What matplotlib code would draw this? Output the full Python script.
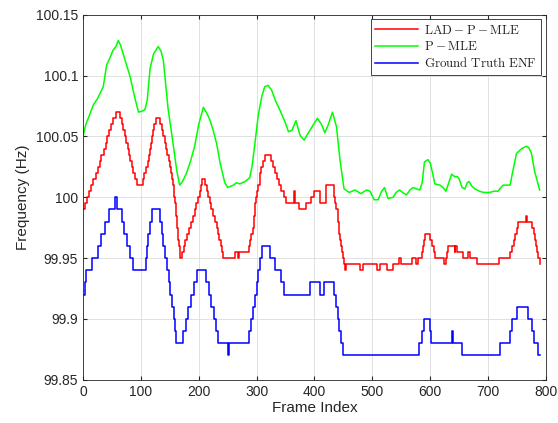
import numpy as np
import matplotlib
matplotlib.use("Agg")
import matplotlib.pyplot as plt

plt.rcParams['font.family'] = ['Liberation Sans', 'DejaVu Sans']
plt.rcParams['mathtext.fontset'] = 'cm'

# ground truth ENF, step breakpoints (frame, Hz)
gt_frames = [0, 4, 6, 16, 26, 32, 38, 45, 56, 58, 67, 71, 76, 81, 86, 109, 111, 113, 116, 119,
             133, 136, 139, 142, 145, 148, 151, 154, 157, 159, 161, 173, 178, 182, 187, 192, 197,
             212, 218, 222, 226, 230, 234, 250, 252, 286, 290, 293, 297, 300, 303, 306, 309, 323,
             331, 342, 348, 392, 409, 417, 433, 437, 440, 443, 446, 450, 581, 585, 590, 599, 602,
             637, 640, 654, 720, 737, 742, 750, 769, 775, 780, 786, 790]
gt_vals = [99.92, 99.93, 99.94, 99.95, 99.96, 99.97, 99.98, 99.99, 100.00, 99.99, 99.98, 99.97,
           99.96, 99.95, 99.94, 99.95, 99.96, 99.97, 99.98, 99.99,
           99.98, 99.97, 99.96, 99.95, 99.94, 99.93, 99.92, 99.91, 99.90, 99.89, 99.88, 99.89,
           99.90, 99.91, 99.92, 99.93, 99.94,
           99.93, 99.92, 99.91, 99.90, 99.89, 99.88, 99.87, 99.88, 99.89, 99.90, 99.91, 99.92,
           99.93, 99.94, 99.95, 99.96, 99.95,
           99.94, 99.93, 99.92, 99.93, 99.92, 99.93, 99.92, 99.91, 99.90, 99.89, 99.88, 99.87,
           99.88, 99.89, 99.90, 99.89, 99.88,
           99.89, 99.88, 99.87, 99.88, 99.89, 99.90, 99.91, 99.90, 99.89, 99.88, 99.87, 99.87]

# LAD-P-MLE estimate, step breakpoints
lad_frames = [0, 4, 7, 11, 14, 18, 22, 26, 29, 32, 36, 39, 42, 45, 48, 52, 57,
              64, 67, 69, 72, 74, 77, 79, 82, 85, 87, 90, 93,
              103, 106, 109, 112, 114, 116, 118, 120, 121, 123, 126,
              133, 137, 139, 141, 144, 146, 148, 150, 152, 154, 156, 157, 158, 159, 160, 161, 162,
              163, 164, 165, 166, 167, 168,
              171, 174, 177, 180, 183, 187, 190, 193, 196, 199, 202, 204, 206,
              211, 214, 216, 219, 222, 225, 228, 231, 233, 235, 238, 240, 242,
              263, 267, 269, 286, 289, 291, 293, 295, 296, 297, 298, 299, 301, 303, 305, 306, 308,
              311, 314,
              324, 328, 331, 335, 339, 343, 347, 350, 364, 366, 374, 385, 394, 400, 410, 420, 433,
              436, 438, 440, 441, 442, 443, 444, 445, 447, 449, 451, 452, 455,
              478, 484, 508, 514, 526, 536, 546, 549, 568, 576, 579, 586, 587, 589, 591, 600, 603,
              606, 608, 623, 627, 629, 631, 642, 643, 647, 657, 666, 668, 680, 719, 738, 741, 744,
              747, 750, 752, 766, 768, 776, 779, 781, 783, 785, 787, 789]
lad_vals = [99.990, 99.995, 100.000, 100.005, 100.010, 100.015, 100.020, 100.025, 100.030,
            100.035, 100.040, 100.045, 100.050, 100.055, 100.060, 100.065, 100.070,
            100.065, 100.060, 100.055, 100.050, 100.045, 100.040, 100.035, 100.030, 100.025,
            100.020, 100.015, 100.010,
            100.015, 100.020, 100.025, 100.030, 100.035, 100.040, 100.045, 100.050, 100.055,
            100.060, 100.065,
            100.060, 100.055, 100.050, 100.045, 100.040, 100.035, 100.030, 100.025, 100.020,
            100.015, 100.010, 100.005, 100.000, 99.995, 99.990, 99.985, 99.980,
            99.975, 99.970, 99.965, 99.960, 99.955, 99.950,
            99.955, 99.960, 99.965, 99.970, 99.975, 99.980, 99.985, 99.990, 99.995, 100.000,
            100.005, 100.010, 100.015,
            100.010, 100.005, 100.000, 99.995, 99.990, 99.985, 99.980, 99.975, 99.970, 99.965,
            99.960, 99.955, 99.950,
            99.955, 99.950, 99.955, 99.960, 99.965, 99.970, 99.975, 99.980, 99.985, 99.990,
            99.995, 100.000, 100.005, 100.010, 100.015, 100.020, 100.025,
            100.030, 100.035,
            100.030, 100.025, 100.020, 100.015, 100.010, 100.005, 100.000, 99.995, 100.005,
            99.995, 99.990, 99.995, 100.000, 100.005, 99.995, 100.010, 100.000,
            99.995, 99.990, 99.985, 99.980, 99.975, 99.970, 99.965, 99.960, 99.955, 99.950,
            99.945, 99.940, 99.945,
            99.940, 99.945, 99.940, 99.945, 99.940, 99.945, 99.950, 99.945, 99.950, 99.945,
            99.950, 99.955, 99.960, 99.965, 99.970, 99.965, 99.960,
            99.955, 99.950, 99.945, 99.950, 99.955, 99.960, 99.955, 99.960, 99.955, 99.950,
            99.955, 99.950, 99.945, 99.950, 99.955, 99.960, 99.965,
            99.970, 99.975, 99.980, 99.985, 99.980, 99.975, 99.970, 99.965, 99.960, 99.955,
            99.950, 99.945]

# P-MLE estimate
pm_frames = [0, 5, 10, 18, 25, 30, 35, 41, 46, 52, 57, 61, 65, 70, 81, 90, 96, 103, 107, 111,
             116, 122, 130, 135, 139, 147, 156, 162, 167, 172, 179, 186, 193, 200, 208, 213, 219,
             225, 231, 237, 245, 250, 260, 265, 271, 280, 288, 292, 297, 303, 309, 314, 320, 326,
             333, 340, 349, 355, 361, 368, 375, 382, 392, 405, 412, 418, 424, 431, 438, 444, 451,
             460, 470, 480, 490, 496, 503, 510, 516, 521, 527, 536, 541, 547, 552, 559, 565, 570,
             576, 582, 586, 590, 596, 600, 604, 608, 617, 622, 627, 632, 637, 642, 647, 650, 655,
             660, 664, 667, 672, 677, 685, 692, 703, 710, 717, 722, 726, 732, 738, 742, 749, 758,
             766, 770, 775, 780, 789]
pm_vals = [100.050, 100.060, 100.066, 100.076, 100.081, 100.086, 100.091, 100.109, 100.114,
           100.121, 100.124, 100.129, 100.125, 100.117, 100.100, 100.081, 100.070, 100.071,
           100.072, 100.080, 100.106, 100.118, 100.124, 100.120, 100.112, 100.073, 100.043,
           100.022, 100.010, 100.013, 100.020, 100.030, 100.042, 100.060, 100.074, 100.070,
           100.064, 100.055, 100.044, 100.028, 100.012, 100.008, 100.010, 100.012, 100.011,
           100.013, 100.016, 100.025, 100.044, 100.068, 100.083, 100.091, 100.092, 100.088,
           100.079, 100.072, 100.062, 100.054, 100.055, 100.063, 100.051, 100.047, 100.055,
           100.065, 100.060, 100.053, 100.060, 100.070, 100.058, 100.031, 100.007,
           100.004, 100.006, 100.003, 100.006, 100.005, 99.998, 99.998, 100.005, 100.008,
           99.999, 100.000, 100.004, 100.006, 100.004, 100.002, 100.006, 100.008, 100.007,
           100.006, 100.012, 100.029, 100.031, 100.028, 100.020, 100.011, 100.010, 100.008,
           100.005, 100.012, 100.019, 100.017, 100.017, 100.015, 100.008, 100.007, 100.012,
           100.013, 100.009, 100.007, 100.005, 100.004, 100.004, 100.005, 100.005, 100.008,
           100.010, 100.010, 100.010, 100.020, 100.036, 100.040, 100.042, 100.041, 100.036,
           100.022, 100.006]

yticks = [99.85, 99.9, 99.95, 100, 100.05, 100.1, 100.15]
ytick_labels = ['99.85', '99.9', '99.95', '100', '100.05', '100.1', '100.15']
xticks = [0, 100, 200, 300, 400, 500, 600, 700, 800]

fig = plt.figure(figsize=(5.58, 4.23), dpi=100)
ax = fig.add_axes([0.1487, 0.1024, 0.8298, 0.8624])

ax.plot(lad_frames, lad_vals, color=(1, 0, 0), lw=1.1, drawstyle='steps-post',
        label=r'$\mathrm{LAD-P-MLE}$')
ax.plot(pm_frames, pm_vals, color=(0, 1, 0), lw=1.1, label=r'$\mathrm{P-MLE}$')
ax.plot(gt_frames, gt_vals, color=(0, 0, 1), lw=1.1, drawstyle='steps-post',
        label=r'$\mathrm{Ground\ Truth\ ENF}$')

ax.set_xlim(0, 800)
ax.set_ylim(99.85, 100.15)
ax.set_xticks(xticks)
ax.set_yticks(yticks)
ax.set_yticklabels(ytick_labels)
ax.grid(True, color='#dcdcdc', lw=0.6)
ax.set_axisbelow(True)
ax.tick_params(direction='in', length=3, labelsize=10, colors='#262626', top=True, right=True)
for sp in ax.spines.values():
    sp.set_color('#262626')
    sp.set_linewidth(0.6)

ax.set_xlabel('Frame Index', fontsize=11, color='#262626', labelpad=2)
ax.set_ylabel('Frequency (Hz)', fontsize=11, color='#262626', labelpad=4)

leg = ax.legend(loc='upper right', fontsize=9.3, handlelength=3.3, borderaxespad=0.35,
                fancybox=False, framealpha=1, edgecolor='#262626', borderpad=0.35,
                labelspacing=0.25, handletextpad=0.5)
leg.get_frame().set_linewidth(0.6)
for t in leg.get_texts():
    t.set_color('#262626')

fig.savefig('out.png', dpi=100)
